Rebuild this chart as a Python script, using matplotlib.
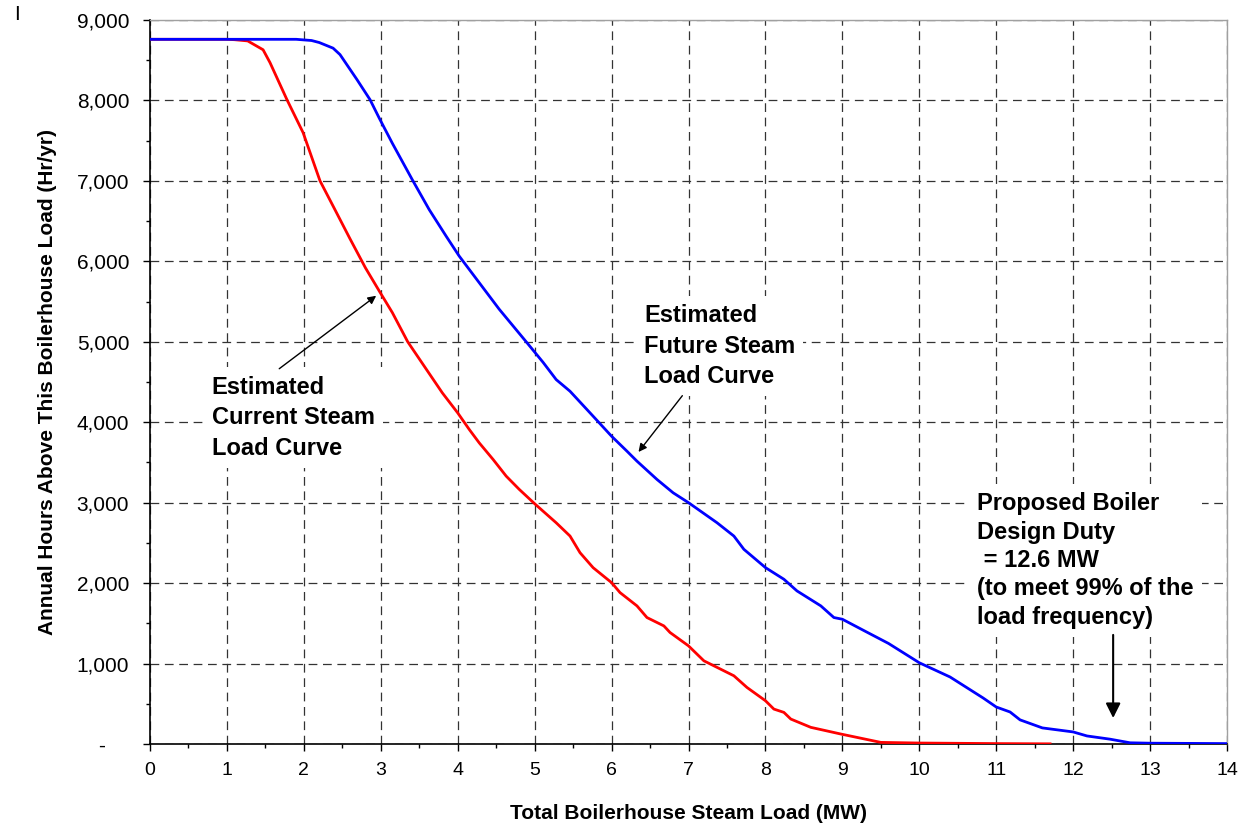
import matplotlib.pyplot as plt
from matplotlib.ticker import MultipleLocator, FuncFormatter

plt.rcParams['font.family'] = ['Liberation Sans', 'DejaVu Sans']

# estimated current steam load curve (MW, hr/yr)
cur_x = [0.0, 1.0, 1.1, 1.27, 1.47, 1.56, 1.78, 1.99, 2.21, 2.4, 2.6, 2.8, 2.98, 3.15, 3.35,
         3.59, 3.8, 4.0, 4.15, 4.28, 4.46, 4.63, 4.8, 5.0, 5.28, 5.46, 5.59, 5.76, 6.0,
         6.11, 6.33, 6.46, 6.68, 6.76, 7.0, 7.2, 7.59, 7.76, 8.0, 8.11, 8.24, 8.33, 8.59,
         8.98, 9.2, 9.5, 10.0, 11.0, 11.7]
cur_y = [8760, 8760, 8755, 8740, 8630, 8470, 8010, 7600, 7000, 6650, 6280, 5920, 5631, 5363, 5000,
         4661, 4365, 4116, 3910, 3743, 3537, 3330, 3165, 2987, 2750, 2585, 2378, 2192, 2006,
         1882, 1717, 1572, 1468, 1386, 1220, 1034, 848, 703, 538, 434, 393, 310, 207,
         124, 80, 20, 12, 5, 2]

# estimated future steam load curve
fut_x = [0.0, 1.9, 2.1, 2.2, 2.38, 2.47, 2.69, 2.86, 2.98, 3.15, 3.41, 3.63, 3.85, 4.02, 4.28,
         4.54, 4.89, 5.11, 5.28, 5.46, 5.76, 6.0, 6.2, 6.33, 6.59, 6.8, 7.0, 7.37, 7.59,
         7.72, 8.0, 8.24, 8.41, 8.72, 8.89, 9.0, 9.3, 9.6, 10.0, 10.4, 10.83, 11.0, 11.18,
         11.31, 11.6, 12.0, 12.18, 12.48, 12.74, 13.0, 14.0]
fut_y = [8760, 8760, 8745, 8720, 8650, 8570, 8260, 8010, 7780, 7468, 7014, 6642, 6312, 6064, 5734,
         5404, 5000, 4744, 4530, 4385, 4075, 3826, 3640, 3516, 3289, 3123, 3000, 2751, 2585,
         2420, 2193, 2048, 1903, 1717, 1572, 1551, 1400, 1250, 1010, 833, 572, 460, 398,
         300, 200, 150, 100, 60, 15, 10, 5]

design_duty = 12.52

fig = plt.figure(figsize=(12.43, 8.27), dpi=100)
ax = fig.add_axes([150/1243, 1 - 744/827, (1227 - 150)/1243, (744 - 20)/827])

ax.plot(cur_x, cur_y, color='#ff0000', lw=2, zorder=3)
ax.plot(fut_x, fut_y, color='#0000ff', lw=2, zorder=3)

ax.set_xlim(0, 14)
ax.set_ylim(0, 9000)
ax.xaxis.set_major_locator(MultipleLocator(1))
ax.xaxis.set_minor_locator(MultipleLocator(0.5))
ax.yaxis.set_major_locator(MultipleLocator(1000))
ax.yaxis.set_minor_locator(MultipleLocator(500))

def yfmt(v, pos):
    if v == 0:
        return '-    '
    return '{:,.0f}'.format(v)
ax.yaxis.set_major_formatter(FuncFormatter(yfmt))

ax.grid(True, which='major', color='#333333', lw=0.9, linestyle=(0, (7, 4.5)), zorder=0)
ax.set_axisbelow(True)
ax.tick_params(which='major', direction='out', length=5, width=1, labelsize=14, color='black')
ax.tick_params(axis='y', which='major', pad=10, labelsize=15)
ax.tick_params(axis='x', which='major', pad=8)
ax.tick_params(which='minor', direction='out', length=3, width=1)
for s in ['top', 'right']:
    ax.spines[s].set_color('#a0a0a0')
    ax.spines[s].set_linewidth(1)
for s in ['left', 'bottom']:
    ax.spines[s].set_color('black')
    ax.spines[s].set_linewidth(1.2)

ax.set_xlabel('Total Boilerhouse Steam Load (MW)', fontsize=15, fontweight='bold', labelpad=18)
ax.set_ylabel('Annual Hours Above This Boilerhouse Load (Hr/yr)', fontsize=15, fontweight='bold', labelpad=14)

box = dict(facecolor='white', edgecolor='none', boxstyle='square,pad=0.35')
ax.text(0.8, 4580, 'Estimated\nCurrent Steam\nLoad Curve', fontsize=17, fontweight='bold',
        va='top', ha='left', linespacing=1.42, bbox=box, zorder=4)
ax.text(6.42, 5470, 'Estimated\nFuture Steam\nLoad Curve', fontsize=17, fontweight='bold',
        va='top', ha='left', linespacing=1.42, bbox=box, zorder=4)
ax.text(10.75, 3130, 'Proposed Boiler\nDesign Duty\n = 12.6 MW\n(to meet 99% of the\nload frequency)',
        fontsize=17, fontweight='bold', va='top', ha='left', linespacing=1.3, bbox=box, zorder=4)

arr = dict(arrowstyle='-|>', color='black', lw=1, mutation_scale=12, shrinkA=0, shrinkB=0)
ax.annotate('', xy=(2.94, 5572), xytext=(1.68, 4665), arrowprops=arr, zorder=5)
ax.annotate('', xy=(6.35, 3630), xytext=(6.92, 4330), arrowprops=arr, zorder=5)
big = dict(arrowstyle='-|>', color='black', lw=1.5, mutation_scale=22, shrinkA=0, shrinkB=0)
ax.annotate('', xy=(design_duty, 323), xytext=(design_duty, 1356), arrowprops=big, zorder=5)

fig.text(14/1243, 1 - 5/827, 'I', fontsize=15, va='top', ha='left')

fig.savefig('out.png', dpi=100)
